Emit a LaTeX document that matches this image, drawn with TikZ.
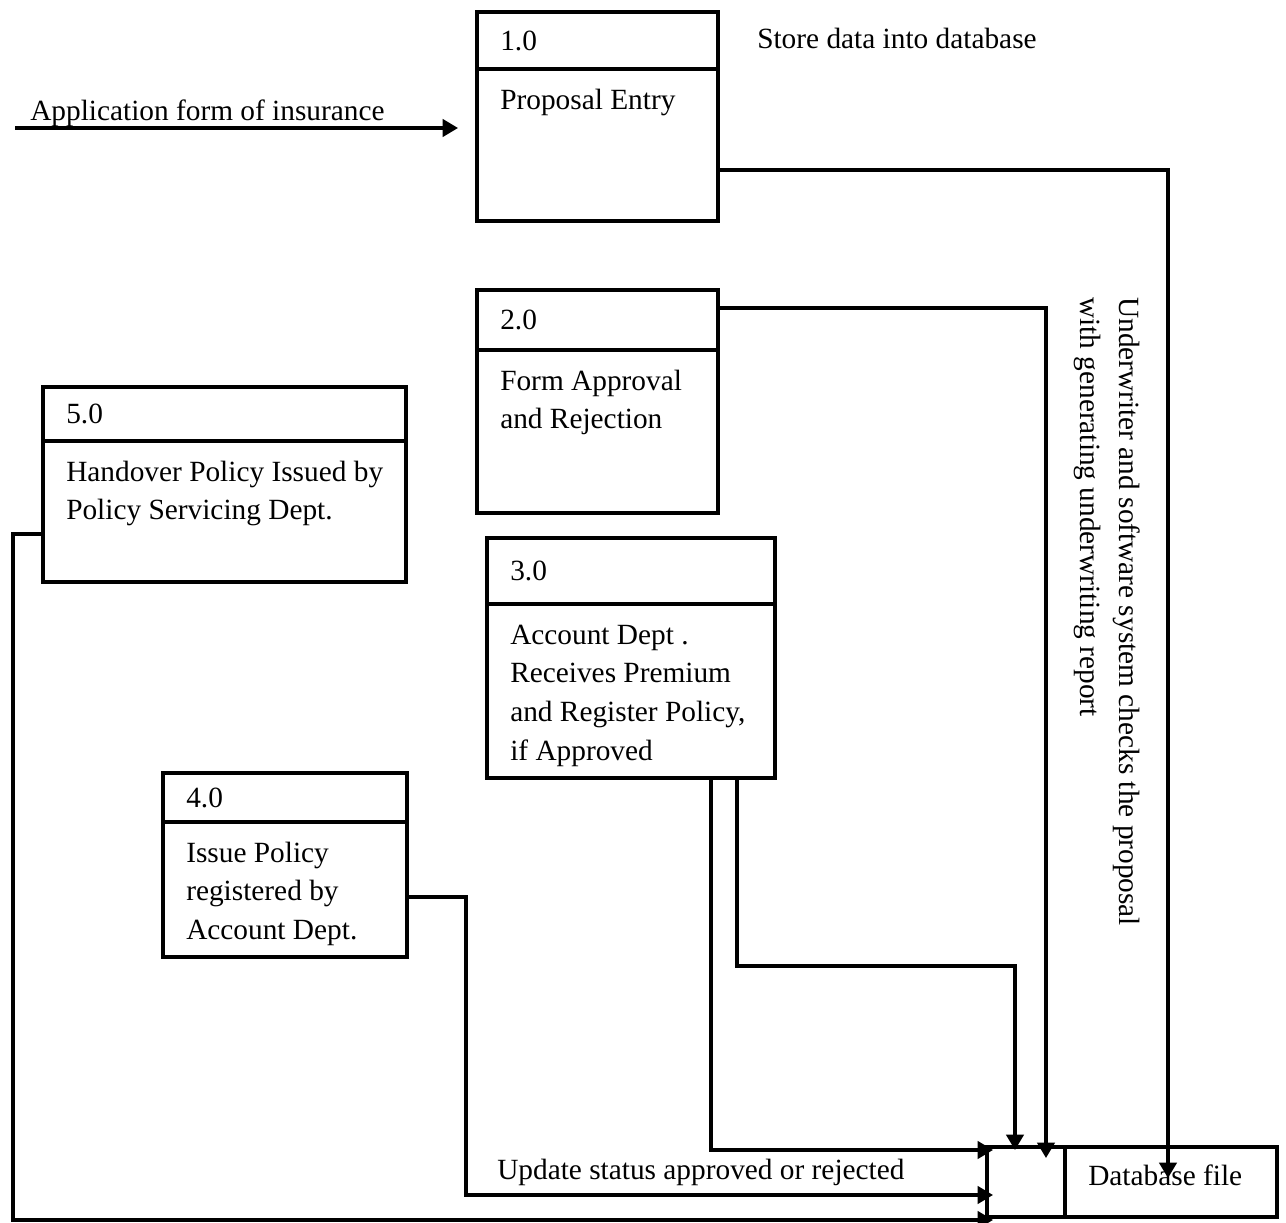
\documentclass[tikz,border=0pt]{standalone}
\usepackage{fontspec}
\setmainfont{Liberation Serif}
\usetikzlibrary{arrows.meta,calc,fit}

\newcommand{\dfdfont}{\fontsize{22}{29}\selectfont}
% strut that fixes the height of a first text line
\newcommand{\firstline}{\rule{0pt}{22pt}}

% A process box: outer frame, header divider, number and description.
% #1 name, #2-#5 corners, #6 divider y, #7 number, #8 description
\newcommand{\dfdprocess}[8]{%
  \node[procbox, fit={(#2,#3) (#4,#5)}] (#1) {};
  \draw[procline] (#2,#6) -- (#4,#6);
  \node[numtext, anchor=west] (#1num) at ({#2+23},{(#3+#6)/2}) {#7};
  \node[bodytext, anchor=north west] (#1txt) at ({#2+23},{#6+10.7}) {\firstline#8};
}

\tikzset{
  procbox/.style={draw, line width=3pt, inner sep=0pt, outer sep=0pt},
  procline/.style={line width=3pt},
  numtext/.style={inner sep=0pt, font=\dfdfont},
  bodytext/.style={inner sep=0pt, align=left, font=\dfdfont},
  labeltext/.style={inner sep=0pt, font=\dfdfont},
  flow/.style={line width=2.4pt, -{Triangle[length=11.5pt,width=13pt]}}
}

\begin{document}
\begin{tikzpicture}[x=0.75pt, y=-0.75pt]
\useasboundingbox (0,0) rectangle (1286,1223);

% processes
\dfdprocess{p1}{477}{12}{718}{221}{69}{1.0}{Proposal Entry}
\dfdprocess{p2}{477}{290}{718}{513}{350}{2.0}{Form Approval\\and Rejection}
\dfdprocess{p3}{487}{538}{775}{778}{604}{3.0}{Account Dept .\\Receives Premium\\and Register Policy,\\if Approved}
\dfdprocess{p4}{163}{773}{407}{957}{822}{4.0}{Issue Policy\\registered by\\Account Dept.}
\dfdprocess{p5}{43}{387}{406}{582}{441}{5.0}{Handover Policy Issued by\\Policy Servicing Dept.}

% data store
\node[procbox, fit={(987,1147) (1065,1217)}] (store) {};
\node[procbox, fit={(1065,1147) (1277,1217)}] (dbfile) {};
\node[labeltext, anchor=base west] (dbtext) at (1088,1185) {Database file};

% flows
\coordinate (appsrc) at (15,128);
\draw[flow] (appsrc) -- ($(p1.west |- appsrc)+(-19,0)$);
\draw[flow] (p1.east |- 0,170) -| ($(dbfile.north west)+(103,31)$);
\draw[flow] (p2.east |- 0,308) -| ($(store.north west)+(59,11)$);
\draw[flow] ($(p3.south west)+(224,0)$) |- ($(store.north west)+(6,3)$);
\draw[flow] ($(p3.south west)+(250,0)$) -- ++(0,188) -| ($(store.north west)+(28,3)$);
\draw[flow] (p4.east |- 0,897) -- ++(59,0) |- ($(store.west)+(6,13)$);
\draw[flow] (p5.west |- 0,534) -- ++(-30,0) |- ($(store.south west)+(6,3)$);

% labels
\node[labeltext, anchor=base west] (applabel) at (30,121) {Application form of insurance};
\node[labeltext, anchor=base west] (storelabel) at (757,49) {Store data into database};
\node[labeltext, anchor=base west] (updlabel) at (497,1179) {Update status approved or rejected};
\node[bodytext, rotate=-90, anchor=north west] (checklabel) at (1149,297)
  {\firstline Underwriter and software system checks the proposal\\with generating underwriting report};
\end{tikzpicture}
\end{document}
